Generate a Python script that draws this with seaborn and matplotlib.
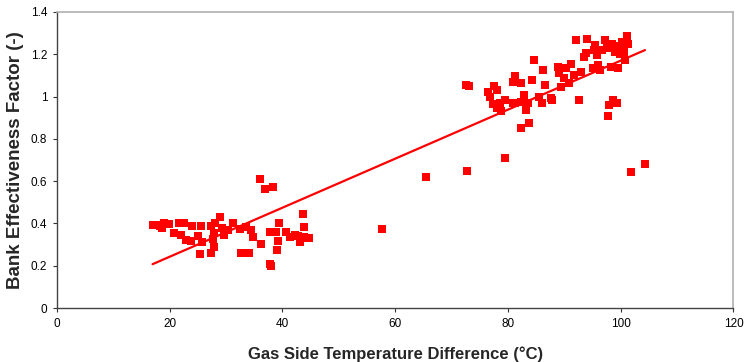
import numpy as np
import pandas as pd
import seaborn as sns
import matplotlib
matplotlib.use("Agg")
import matplotlib.pyplot as plt

# ---- data ----
low_x = [16.95, 17.5, 18.2, 18.7, 19.0, 19.9, 20.8, 21.6, 22.0, 22.5, 22.8, 23.8, 24.0, 25.0,
         25.3, 25.5, 25.7, 27.3, 27.4, 27.6, 27.8, 27.8, 28.1, 29.0, 29.2, 29.6, 30.4, 31.3,
         32.5, 32.7, 33.6, 34.0, 34.5, 34.8, 36.0, 36.2, 36.9, 37.7, 37.8, 37.9, 38.4, 38.9,
         39.1, 39.2, 39.4, 40.6, 41.3, 42.2, 43.1, 43.6, 43.8, 43.9, 44.7, 42.8, 44.2]
low_y = [0.393, 0.395, 0.39, 0.378, 0.40, 0.397, 0.355, 0.40, 0.345, 0.40, 0.32, 0.317, 0.39, 0.34,
         0.255, 0.39, 0.31, 0.39, 0.26, 0.326, 0.355, 0.29, 0.40, 0.43, 0.378, 0.345, 0.37, 0.40,
         0.374, 0.26, 0.383, 0.26, 0.369, 0.336, 0.61, 0.303, 0.563, 0.36, 0.208, 0.20, 0.572, 0.36,
         0.274, 0.317, 0.40, 0.36, 0.336, 0.345, 0.312, 0.445, 0.383, 0.336, 0.331, 0.34, 0.33]

mid_x = [57.7, 65.5, 72.8]
mid_y = [0.374, 0.62, 0.649]

high_x = [72.5, 73.0, 76.5, 76.8, 77.3, 77.6, 78.0, 78.1, 78.5, 78.8, 79.5, 79.5, 80.9, 80.9,
          81.3, 81.3, 82.3, 82.4, 82.4, 82.9, 83.2, 83.5, 83.8, 84.3, 84.6, 85.5, 86.0, 86.2,
          86.6, 87.6, 87.8, 88.8, 89.0, 89.4, 90.0, 90.3, 90.8, 91.1, 91.7, 92.0, 92.6, 92.9,
          93.4, 93.8, 94.0, 95.0, 95.2, 95.5, 95.8, 96.0, 96.4, 96.7, 97.3, 97.6, 97.8, 97.9,
          98.2, 98.4, 98.7, 98.9, 99.2, 99.4, 99.6, 99.8, 100.0, 100.3, 100.5, 100.8, 101.1,
          101.3, 101.9, 104.3]
high_y = [1.055, 1.05, 1.023, 1.0, 0.965, 1.05, 0.946, 1.03, 0.97, 0.93, 0.984, 0.711, 0.97, 1.07,
          0.97, 1.097, 0.85, 0.972, 1.064, 1.007, 0.937, 0.97, 0.877, 1.08, 1.173, 0.998, 0.97, 1.126,
          1.055, 0.993, 0.984, 1.141, 1.11, 1.045, 1.088, 1.135, 1.064, 1.154, 1.1, 1.268, 0.984, 1.116,
          1.187, 1.206, 1.272, 1.135, 1.22, 1.244, 1.197, 1.15, 1.126, 1.22, 1.268, 1.23, 0.91, 0.96,
          1.14, 1.25, 0.984, 1.21, 1.24, 0.97, 1.135, 1.2, 1.23, 1.26, 1.21, 1.173, 1.288,
          1.25, 0.643, 0.681]

x_ticks = [0, 20, 40, 60, 80, 100, 120]
y_ticks = [0, 0.2, 0.4, 0.6, 0.8, 1.0, 1.2, 1.4]
y_tick_labels = ["0", "0.2", "0.4", "0.6", "0.8", "1", "1.2", "1.4"]

df = pd.DataFrame({"x": low_x + mid_x + high_x, "y": low_y + mid_y + high_y})

sns.set_style("white")
plt.rcParams["font.family"] = ["Liberation Sans", "DejaVu Sans"]

fig = plt.figure(figsize=(7.45, 3.62), dpi=100)
ax = fig.add_axes([0.0765, 0.149, 0.908, 0.818])

sns.regplot(data=df, x="x", y="y", ax=ax, ci=None, marker="s", color="#ff0000",
            scatter_kws={"s": 26, "linewidths": 0, "alpha": 1},
            line_kws={"color": "#ff0000", "linewidth": 1.6})

ax.set_xlim(0, 120)
ax.set_ylim(0, 1.4)
ax.set_xticks(x_ticks)
ax.set_xticklabels([str(t) for t in x_ticks])
ax.set_yticks(y_ticks)
ax.set_yticklabels(y_tick_labels)
ax.tick_params(axis="both", direction="out", length=3, width=0.8, colors="#333333",
               labelsize=8.5, labelcolor="black", pad=4)
ax.tick_params(axis="both", bottom=True, left=True)

for side in ["left", "bottom"]:
    ax.spines[side].set_color("#444444")
    ax.spines[side].set_linewidth(1.0)
for side in ["top", "right"]:
    ax.spines[side].set_color("#b0b0b0")
    ax.spines[side].set_linewidth(1.2)

ax.set_xlabel("Gas Side Temperature Difference (°C)", fontsize=12, fontweight="bold", labelpad=12)
ax.set_ylabel("Bank Effectiveness Factor (-)", fontsize=13.5, fontweight="bold", labelpad=5)

fig.savefig("out.png", dpi=100, facecolor="white")
